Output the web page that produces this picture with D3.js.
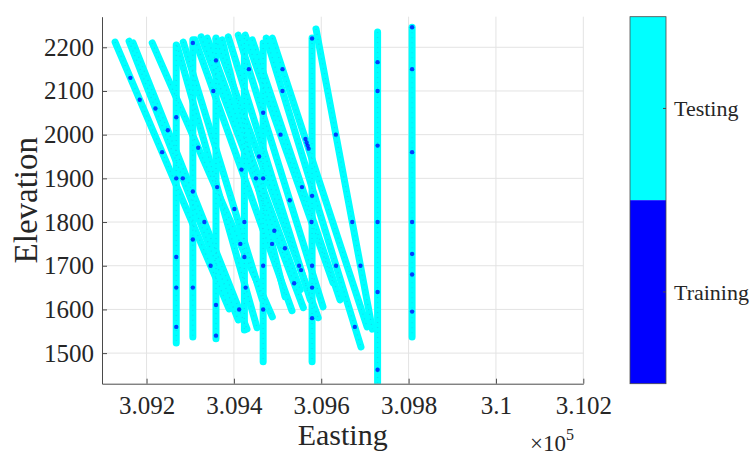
<!DOCTYPE html>
<html><head><meta charset="utf-8">
<script src="https://cdn.jsdelivr.net/npm/d3@7"></script>
<style>
body{margin:0;background:#fff;}
svg{display:block;}
text{font-family:"Liberation Serif","Times New Roman",serif;fill:#262626;}
</style>
</head><body>
<svg id="c" width="754" height="455"></svg>
<script>
// ---------- data ----------
const xDomain = [309098, 310200];
const yDomain = [1430, 2270];
const xTicks = [309200, 309400, 309600, 309800, 310000, 310200];
const xTickLabels = ["3.092", "3.094", "3.096", "3.098", "3.1", "3.102"];
const yTicks = [1500, 1600, 1700, 1800, 1900, 2000, 2100, 2200];
const classNames = ["Testing", "Training"];
const classColors = ["#00ffff", "#0000ff"];

// drill holes: collar (top) and end (bottom)
const holeTopEasting    = [309268,309306,309359,309424,309467,309579,309729,309808,309128,309160,309169,309213,309270,309311,309325,309359,309410,309426,309474,309488,309588,309373,309284,309339,309387,309442];
const holeTopElevation  = [2205,2217,2221,2221,2210,2221,2235,2246,2212,2214,2210,2210,2203,2217,2224,2219,2228,2228,2221,2221,2242,2217,2212,2221,2224,2217];
const holeEndEasting    = [309268,309306,309359,309424,309467,309579,309729,309808,309389,309410,309430,309488,309453,309533,309559,309593,309604,309627,309691,309705,309717,309517,309465,309552,309575,309643];
const holeEndElevation  = [1523,1537,1533,1553,1480,1480,1432,1537,1601,1576,1555,1583,1558,1597,1604,1581,1606,1661,1514,1560,1555,1629,1622,1645,1622,1622];

// training samples: hole index and elevation
const trainHole = [7,7,7,7,7,7,7, 6,6,6,6,6,6, 5,5,5,5,5, 0,0,0,0,0, 1,1,1,1, 2,2,2, 4,4,4,4, 3,3, 8,8,8,8, 9,9, 10,10,10, 11,11, 12,12, 13,13, 14,14, 15,15, 16,16, 17,17, 18,18,18, 19,19,19,19,19, 20,20,20, 21,21, 22,23,24,25];
const trainElevation = [2246,2150,1727,1595,1800,1680,1960, 2166,2100,1462,1975,1800,1640, 2220,1650,1700,1580,1860, 2040,1650,1560,1720,1900, 2210,1870,1650,1760, 1540,1610,2170, 1700,1600,1900,2050, 1800,1720, 2130,2080,1960,1700, 2060,1900, 2010,1800,1600, 1970,1750, 1880,1650, 2100,1920, 1780,1660, 1950,1700, 2150,1850, 2000,1800, 2100,1700,1560, 1990,1982,1975,1968,2150, 2000,1800,1700, 1900,1750, 1830,1740,1690,1880];

// ---------- layout ----------
const svg = d3.select("#c");
const L = 102, R = 583.3, T = 16.7, B = 383.7;
const x = d3.scaleLinear().domain(xDomain).range([L, R]);
const y = d3.scaleLinear().domain(yDomain).range([B, T]);

// grid
const grid = svg.append("g");
grid.selectAll("line.gx").data(xTicks).enter().append("line")
  .attr("x1", d => x(d)).attr("x2", d => x(d)).attr("y1", T).attr("y2", B)
  .attr("stroke", "#e3e3e3").attr("stroke-width", 1);
grid.selectAll("line.gy").data(yTicks).enter().append("line")
  .attr("x1", L).attr("x2", R).attr("y1", d => y(d)).attr("y2", d => y(d))
  .attr("stroke", "#e3e3e3").attr("stroke-width", 1);

// holes
const plot = svg.append("g");
svg.append("clipPath").attr("id", "pc").append("rect")
  .attr("x", L).attr("y", T - 10).attr("width", R - L).attr("height", B - T + 10);
plot.attr("clip-path", "url(#pc)");
const holes = holeTopEasting.map((e, i) => [[e, holeTopElevation[i]], [holeEndEasting[i], holeEndElevation[i]]]);
const line = d3.line().x(d => x(d[0])).y(d => y(d[1]));
plot.selectAll("path.hole").data(holes).enter().append("path")
  .attr("d", line).attr("fill", "none")
  .attr("stroke", classColors[0]).attr("stroke-width", 7).attr("stroke-linecap", "round");
plot.selectAll("path.tex").data(holes).enter().append("path")
  .attr("d", line).attr("fill", "none")
  .attr("stroke", "#19c8e6").attr("stroke-width", 1.3).attr("stroke-dasharray", "1 4").attr("opacity", 0.6);

// training points
const train = trainHole.map((h, i) => {
  const [[e0, z0], [e1, z1]] = holes[h];
  const z = trainElevation[i];
  const t = (z0 - z) / (z0 - z1);
  return [e0 + t * (e1 - e0), z];
});
plot.selectAll("circle.tr").data(train).enter().append("circle")
  .attr("cx", d => x(d[0])).attr("cy", d => y(d[1])).attr("r", 2.2)
  .attr("fill", classColors[1]).attr("opacity", 0.75);

// axes
const xAxis = d3.axisBottom(x).tickValues(xTicks).tickFormat((d, i) => xTickLabels[i]).tickSizeInner(-5).tickSizeOuter(0).tickPadding(13);
const gx = svg.append("g").attr("transform", `translate(0,${B})`).call(xAxis);
const yAxis = d3.axisLeft(y).tickValues(yTicks).tickFormat(d3.format("d")).tickSizeInner(-5).tickSizeOuter(0).tickPadding(8);
const gy = svg.append("g").attr("transform", `translate(${L},0)`).call(yAxis);
[gx, gy].forEach(g => {
  g.select(".domain").attr("stroke", "#4a4a4a").attr("stroke-width", 1);
  g.selectAll(".tick line").attr("stroke", "#4a4a4a");
  g.selectAll(".tick text").attr("font-family", "Liberation Serif").attr("font-size", 25).attr("fill", "#262626");
});

// axis labels
svg.append("text").attr("x", (L + R) / 2).attr("y", 445).attr("text-anchor", "middle")
  .attr("font-size", 30).text("Easting");
svg.append("text").attr("transform", `translate(37,${(T + B) / 2}) rotate(-90)`).attr("text-anchor", "middle")
  .attr("font-size", 33).text("Elevation");
const mult = svg.append("text").attr("x", 530).attr("y", 451).attr("font-size", 23);
mult.append("tspan").text("×10");
mult.append("tspan").attr("font-size", 16).attr("dy", -11).text("5");

// colorbar
const cb = d3.scaleBand().domain(classNames).range([T, B]);
const cbx = 630, cbw = 36;
svg.selectAll("rect.cb").data(classNames).enter().append("rect")
  .attr("x", cbx).attr("y", d => cb(d)).attr("width", cbw).attr("height", cb.bandwidth())
  .attr("fill", (d, i) => classColors[i]);
svg.append("rect").attr("x", cbx).attr("y", T).attr("width", cbw).attr("height", B - T)
  .attr("fill", "none").attr("stroke", "#4a4a4a").attr("stroke-width", 0.8);
svg.selectAll("line.cbt").data(classNames).enter().append("line")
  .attr("x1", cbx + cbw - 3).attr("x2", cbx + cbw).attr("y1", d => cb(d) + cb.bandwidth() / 2).attr("y2", d => cb(d) + cb.bandwidth() / 2)
  .attr("stroke", "#4a4a4a");
svg.selectAll("text.cbl").data(classNames).enter().append("text")
  .attr("x", cbx + cbw + 8).attr("y", d => cb(d) + cb.bandwidth() / 2).attr("dy", "0.35em")
  .attr("font-size", 22).text(d => d);
</script>
</body></html>
